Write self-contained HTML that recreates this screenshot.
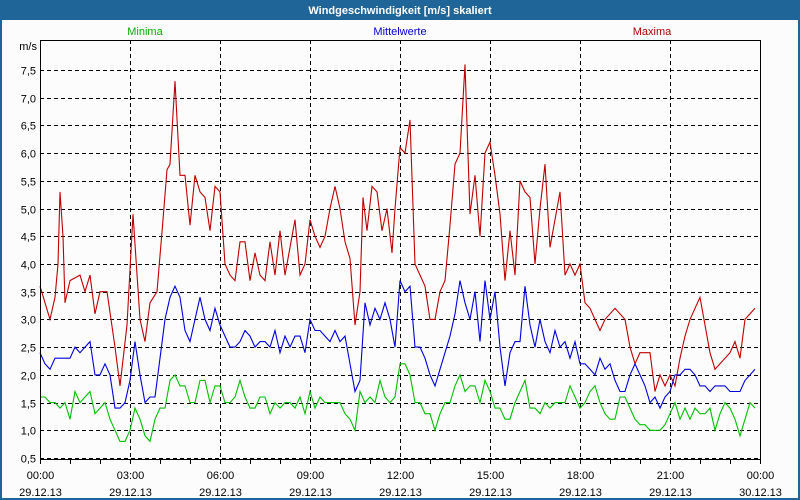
<!DOCTYPE html>
<html><head><meta charset="utf-8">
<style>
body{margin:0;background:#fff;}
#wrap{position:relative;width:800px;height:500px;overflow:hidden;font-family:"Liberation Sans",sans-serif;}
</style></head>
<body>
<div id="wrap">
<svg id="chart" width="800" height="500" xmlns="http://www.w3.org/2000/svg">
<rect x="0" y="0" width="800" height="500" fill="#1f6598"/>
<rect x="2" y="20" width="796" height="478" fill="#fcfcfc"/>
<text x="400" y="14" text-anchor="middle" font-size="11" font-weight="bold" fill="#fff">Windgeschwindigkeit [m/s] skaliert</text>
<text x="145" y="35" text-anchor="middle" font-size="11" fill="#00b000">Minima</text>
<text x="400" y="35" text-anchor="middle" font-size="11" fill="#0000d0">Mittelwerte</text>
<text x="652" y="35" text-anchor="middle" font-size="11" fill="#b00000">Maxima</text>
<text x="37" y="50" text-anchor="end" font-size="11" fill="#000">m/s</text>
<g id="grid"></g>
<g id="series"></g>
<rect x="40.5" y="40.5" width="720" height="419" fill="none" stroke="#000" stroke-width="1"/>
<g id="axes"></g>
</svg>
</div>
<script>
const yTicks=[0.5,1.0,1.5,2.0,2.5,3.0,3.5,4.0,4.5,5.0,5.5,6.0,6.5,7.0,7.5];
const xTickHours=[0,3,6,9,12,15,18,21,24];
const xTickTimes=["00:00","03:00","06:00","09:00","12:00","15:00","18:00","21:00","00:00"];
const xTickDates=["29.12.13","29.12.13","29.12.13","29.12.13","29.12.13","29.12.13","29.12.13","29.12.13","30.12.13"];
const maxTimes=[0,20,30,36,40,46,50,60,80,90,
100,110,120,134,150,160,174,186,200,210,
220,234,246,254,260,270,280,290,300,310,
320,330,340,350,360,370,380,390,400,410,
420,430,440,450,460,470,480,490,500,510,
520,530,540,550,560,570,580,590,600,610,
620,630,640,646,654,664,674,684,694,704,
710,720,730,740,750,760,770,780,790,800,
810,820,830,840,850,860,870,880,890,900,
910,920,930,940,950,960,970,980,990,1000,
1010,1020,1030,1040,1050,1060,1070,1080,1090,1100,
1110,1120,1130,1150,1170,1180,1190,1200,1220,1230,
1240,1250,1260,1270,1280,1290,1300,1310,1320,1340,
1350,1360,1380,1390,1400,1410,1430];
const maxValues=[3.6,3.0,3.4,4.0,5.3,4.5,3.3,3.7,3.8,3.5,
3.8,3.1,3.5,3.5,2.5,1.8,2.9,4.9,3.0,2.6,
3.3,3.5,4.8,5.7,5.8,7.3,5.6,5.6,4.7,5.6,
5.3,5.2,4.6,5.4,5.3,4.0,3.8,3.7,4.4,4.4,
3.7,4.2,3.8,3.7,4.4,3.8,4.6,3.8,4.3,4.8,
3.8,4.0,4.8,4.5,4.3,4.5,5.0,5.4,5.0,4.4,
4.1,2.9,3.5,5.2,4.6,5.4,5.3,4.6,5.0,4.2,
5.0,6.1,6.0,6.6,4.0,3.8,3.6,3.0,3.0,3.5,
3.7,4.7,5.8,6.0,7.6,4.9,5.6,4.5,6.0,6.2,
5.6,4.9,3.7,4.6,3.8,5.5,5.3,5.2,4.0,5.0,
5.8,4.3,4.8,5.3,3.8,4.0,3.8,4.0,3.3,3.2,
3.0,2.8,3.0,3.2,3.0,2.5,2.2,2.4,2.4,1.7,
2.0,1.8,2.0,1.8,2.3,2.7,3.0,3.2,3.4,2.4,
2.1,2.2,2.4,2.6,2.3,3.0,3.2];
const stepMinutes=10;
const meanValues=[2.4,2.2,2.1,2.3,2.3,2.3,2.3,2.5,2.4,2.5,
2.6,2.0,2.0,2.2,2.0,1.4,1.4,1.5,1.9,2.6,
2.0,1.5,1.6,1.6,2.3,3.0,3.4,3.6,3.4,2.8,
2.6,3.0,3.4,3.0,2.8,3.2,2.9,2.7,2.5,2.5,
2.6,2.8,2.7,2.5,2.6,2.6,2.5,2.8,2.4,2.7,
2.5,2.7,2.7,2.4,3.0,2.8,2.8,2.7,2.6,2.8,
2.6,2.7,2.2,1.7,1.9,3.3,2.9,3.2,3.0,3.3,
3.0,2.5,3.7,3.5,3.6,2.5,2.5,2.3,2.0,1.8,
2.1,2.4,2.7,3.1,3.7,3.3,3.0,3.5,2.6,3.7,
3.0,3.5,2.5,1.8,2.4,2.6,2.6,3.6,2.9,2.5,
3.0,2.6,2.4,2.8,2.5,2.6,2.3,2.6,2.2,2.2,
2.1,2.0,2.3,2.1,2.2,1.9,1.7,1.7,2.0,2.2,
2.0,1.8,1.5,1.6,1.4,1.6,1.7,2.0,2.0,2.1,
2.1,2.0,1.8,1.8,1.7,1.8,1.8,1.8,1.7,1.7,
1.7,1.9,2.0,2.1];
const minValues=[1.6,1.6,1.5,1.5,1.4,1.5,1.2,1.7,1.5,1.6,
1.7,1.3,1.4,1.5,1.2,1.0,0.8,0.8,1.0,1.4,
1.2,0.9,0.8,1.2,1.4,1.4,1.9,2.0,1.8,1.8,
1.5,1.5,1.9,1.9,1.5,1.8,1.8,1.5,1.5,1.6,
1.9,1.6,1.4,1.4,1.6,1.6,1.3,1.5,1.4,1.5,
1.5,1.4,1.6,1.3,1.7,1.4,1.6,1.5,1.5,1.5,
1.5,1.3,1.2,1.0,1.7,1.5,1.6,1.5,1.9,1.6,
1.5,1.6,2.2,2.2,2.0,1.5,1.5,1.3,1.3,1.0,
1.3,1.5,1.5,1.8,2.0,1.7,1.8,1.8,1.5,1.9,
1.7,1.4,1.4,1.2,1.2,1.5,1.7,1.9,1.4,1.4,
1.3,1.5,1.4,1.5,1.5,1.5,1.8,1.6,1.4,1.5,
1.7,1.8,1.5,1.3,1.2,1.2,1.6,1.6,1.4,1.2,
1.1,1.1,1.0,1.0,1.0,1.1,1.3,1.5,1.2,1.4,
1.2,1.4,1.3,1.3,1.4,1.0,1.3,1.5,1.4,1.2,
0.9,1.2,1.5,1.4];

const NS="http://www.w3.org/2000/svg";
const X0=40,X1=760,Y0=458,PXV=55.43;
function xScale(min){return X0+(X1-X0)*min/1440;}
function yScale(v){return Y0-(v-0.5)*PXV;}
function mk(tag,attrs,parent){const e=document.createElementNS(NS,tag);for(const k in attrs)e.setAttribute(k,attrs[k]);parent.appendChild(e);return e;}
const grid=document.getElementById('grid'),axes=document.getElementById('axes'),series=document.getElementById('series');
yTicks.forEach(v=>{
  const y=Math.round(yScale(v))+0.5;
  const l=mk('line',{x1:X0,x2:X1,y1:y,y2:y,stroke:'#000','stroke-dasharray':'4,3'},grid);
  
  
  const t=mk('text',{x:36,y:y+4,'text-anchor':'end','font-size':'11',fill:'#000'},axes);
  t.textContent=v.toFixed(1).replace('.',',');
  
  
});
for(let h=0;h<=24;h++){
  const x=Math.round(xScale(h*60))+0.5;
  const tk=mk('line',{x1:x,x2:x,y1:460,y2:464,stroke:'#000'},axes);
  
  
}
xTickHours.forEach((h,i)=>{
  const x=Math.round(xScale(h*60))+0.5;
  if(h>0&&h<24){
    const l=mk('line',{x1:x,x2:x,y1:40,y2:460,stroke:'#000','stroke-dasharray':'4,3'},grid);
    
    
  }
  const t1=mk('text',{x:x,y:479,'text-anchor':'middle','font-size':'11',fill:'#000'},axes);
  t1.textContent=xTickTimes[i];
  
  
  const t2=mk('text',{x:x,y:496,'text-anchor':'middle','font-size':'11',fill:'#000'},axes);
  t2.textContent=xTickDates[i];
  
  
});
function drawLine(times,vals,color,name){
  const pts=vals.map((v,i)=>xScale(times[i]).toFixed(1)+','+yScale(v).toFixed(1)).join(' ');
  const p=mk('polyline',{points:pts,fill:'none',stroke:color,'stroke-width':'1.1'},series);
  
  
}
const uniformTimes=minValues.map((_,i)=>i*stepMinutes);
drawLine(maxTimes,maxValues,'#c00000','maxima-line');
drawLine(meanValues.map((_,i)=>i*stepMinutes),meanValues,'#0000e0','mittelwerte-line');
drawLine(uniformTimes,minValues,'#00c000','minima-line');
</script>
</body></html>
